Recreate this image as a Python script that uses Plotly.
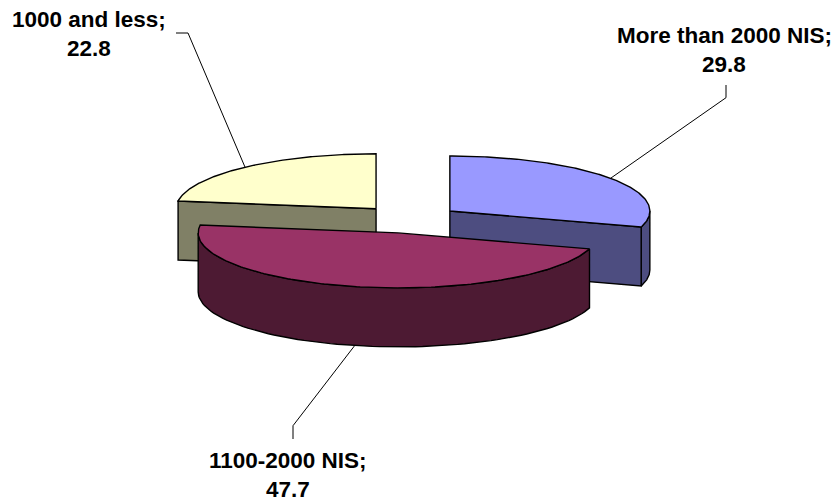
import numpy as np
import plotly.graph_objects as go

# ---- data ----
categories = ["More than 2000 NIS", "1100-2000 NIS", "1000 and less"]
values = [29.8, 47.7, 22.8]
top_colors = ["#9999FF", "#993366", "#FFFFCC"]
side_colors = ["#4D4D80", "#4D1A33", "#808066"]

# ---- geometry / layout (pixels) ----
W, H = 835, 502
CX, CY = 409.2, 219.3
RX, RY = 200.0, 55.0
DEPTH = 59.0
EXPLODE = 0.253
LINE_GAP = 29
# label first-line centres and leader elbows
label_pos = {
    "More than 2000 NIS": dict(x=724, y=35, elbow=[(726, 85), (726, 97.7)]),
    "1100-2000 NIS": dict(x=288, y=460, elbow=[(293, 439), (293, 425.7)]),
    "1000 and less": dict(x=89, y=19.5, elbow=[(176, 33), (188, 33)]),
}
FONT = dict(family="Liberation Sans, Arial, sans-serif", size=22.5, color="black")

fig = go.Figure()

total = sum(values)
slices = []
start = 0.0
for cat, v, tc, sc in zip(categories, values, top_colors, side_colors):
    a0 = start
    a1 = start + v / total * 2 * np.pi
    start = a1
    mid = (a0 + a1) / 2
    cx = CX + EXPLODE * RX * np.sin(mid)
    cy = CY - EXPLODE * RY * np.cos(mid)
    slices.append(dict(cat=cat, v=v, a0=a0, a1=a1, mid=mid, cx=cx, cy=cy, tc=tc, sc=sc))


def rim(s, th, dz=0.0):
    th = np.asarray(th)
    return s["cx"] + RX * np.sin(th), s["cy"] - RY * np.cos(th) + dz


def poly(xs, ys, fill):
    fig.add_trace(go.Scatter(
        x=list(xs) + [xs[0]], y=list(ys) + [ys[0]], mode="lines", fill="toself",
        fillcolor=fill, line=dict(color="black", width=1.4),
        hoverinfo="skip", showlegend=False))


eps = 1e-9
for s in sorted(slices, key=lambda d: d["cy"]):
    cx, cy = s["cx"], s["cy"]
    # outer wall (front part)
    t0 = max(s["a0"], np.pi / 2)
    t1 = min(s["a1"], 1.5 * np.pi)
    if t1 > t0:
        th = np.linspace(t0, t1, 80)
        xt, yt = rim(s, th)
        xb, yb = rim(s, th[::-1], DEPTH)
        poly(np.concatenate([xt, xb]), np.concatenate([yt, yb]), s["sc"])
    # radial cut faces
    for ang, vis in ((s["a0"], np.sin(s["a0"]) < -eps), (s["a1"], np.sin(s["a1"]) > eps)):
        if vis:
            rx_, ry_ = rim(s, ang)
            xs = [cx, rx_, rx_, cx]
            ys = [cy, ry_, ry_ + DEPTH, cy + DEPTH]
            poly(xs, ys, s["sc"])
    # top face
    th = np.linspace(s["a0"], s["a1"], 160)
    xt, yt = rim(s, th)
    poly(np.concatenate([[cx], xt]), np.concatenate([[cy], yt]), s["tc"])

# labels and leader lines
for s in slices:
    lp = label_pos[s["cat"]]
    front = np.cos(s["mid"]) < 0
    ex, ey = rim(s, s["mid"], DEPTH if front else 0.0)
    pts = lp["elbow"] + [(float(ex), float(ey))]
    fig.add_trace(go.Scatter(
        x=[p[0] for p in pts], y=[p[1] for p in pts], mode="lines",
        line=dict(color="black", width=1), hoverinfo="skip", showlegend=False))
    for k, line in enumerate([f"{s['cat']};", f"{s['v']}"]):
        fig.add_annotation(
            x=lp["x"], y=lp["y"] + k * LINE_GAP, xref="x", yref="y", showarrow=False,
            text=f"<b>{line}</b>", font=FONT,
            xanchor="center", yanchor="middle", align="center")

fig.update_layout(
    width=W, height=H, margin=dict(l=0, r=0, t=0, b=0),
    paper_bgcolor="white", plot_bgcolor="white",
    xaxis=dict(range=[0, W], visible=False, fixedrange=True),
    yaxis=dict(range=[H, 0], visible=False, fixedrange=True),
    showlegend=False,
)
fig.write_html("out.html")
